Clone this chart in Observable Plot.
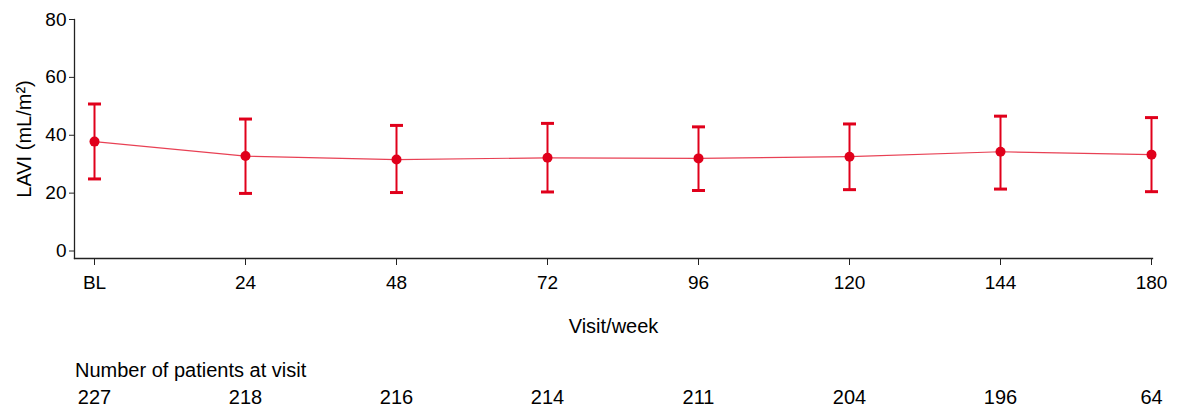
<!DOCTYPE html>
<html>
<head>
<meta charset="utf-8">
<script src="https://cdn.jsdelivr.net/npm/d3@7"></script>
<script src="https://cdn.jsdelivr.net/npm/@observablehq/plot@0.6"></script>
<style>
  html, body { margin: 0; padding: 0; background: #fff; }
  body { width: 1180px; height: 414px; overflow: hidden; font-family: "Liberation Sans", Arial, sans-serif; color: #000; }
  #title { height: 22px; line-height: 24px; font-size: 20px; padding-left: 75px; }
  svg { display: block; }
</style>
</head>
<body>
<div id="main"></div>
<div id="title">Number of patients at visit</div>
<div id="counts"></div>
<script>
const weeks = ["BL", "24", "48", "72", "96", "120", "144", "180"];
const meanLAVI = [37.8, 32.8, 31.6, 32.2, 32.0, 32.6, 34.3, 33.3];
const upperLAVI = [50.8, 45.6, 43.4, 44.1, 42.9, 43.9, 46.6, 46.1];
const lowerLAVI = [24.9, 19.9, 20.2, 20.4, 20.9, 21.2, 21.4, 20.5];
const patients = [227, 218, 216, 214, 211, 204, 196, 64];
const yTicks = [0, 20, 40, 60, 80];

const rows = weeks.map((w, i) => ({week: w, mean: meanLAVI[i], lo: lowerLAVI[i], hi: upperLAVI[i], n: patients[i]}));

const RED = "#e0001b";
const capSymbol = {
  draw(context, size) {
    const r = Math.sqrt(size / Math.PI);
    context.moveTo(-r, 0);
    context.lineTo(r, 0);
  }
};

const common = {
  width: 1180,
  marginLeft: 74,
  marginRight: 28,
  insetLeft: 18,
  style: {fontFamily: "'Liberation Sans', Arial, sans-serif", fontSize: "19px", color: "#000", background: "#fff", overflow: "visible"}
};

const main = Plot.plot({
  ...common,
  height: 358,
  marginTop: 19,
  marginBottom: 100,
  insetBottom: 7.5,
  x: {type: "point", domain: weeks, padding: 0},
  y: {domain: [0, 80]},
  marks: [
    Plot.frame({anchor: "left", stroke: "#222", strokeWidth: 1.3}),
    Plot.frame({anchor: "bottom", stroke: "#222", strokeWidth: 1.3}),
    Plot.axisY({ticks: yTicks, tickSize: 5, tickPadding: 3, stroke: "#222", fontSize: 19, label: null}),
    Plot.axisY({ticks: [], tickSize: 0, label: "LAVI (mL/m²)", labelAnchor: "center", labelArrow: "none", labelOffset: 58, fontSize: 20}),
    Plot.axisX({tickSize: 7, tickPadding: 10, stroke: "#222", fontSize: 19, label: null}),
    Plot.axisX({ticks: [], tickSize: 0, label: "Visit/week", labelAnchor: "center", labelArrow: "none", labelOffset: 74, fontSize: 20}),
    Plot.line(rows, {x: "week", y: "mean", stroke: RED, strokeWidth: 1.2, strokeOpacity: 0.75}),
    Plot.ruleX(rows, {x: "week", y1: "lo", y2: "hi", stroke: RED, strokeWidth: 2}),
    Plot.dot(rows, {x: "week", y: "hi", symbol: capSymbol, r: 6.5, stroke: RED, strokeWidth: 3, fill: "none"}),
    Plot.dot(rows, {x: "week", y: "lo", symbol: capSymbol, r: 6.5, stroke: RED, strokeWidth: 3, fill: "none"}),
    Plot.dot(rows, {x: "week", y: "mean", r: 5, fill: RED, stroke: "none"})
  ]
});
document.getElementById("main").appendChild(main);

const counts = Plot.plot({
  ...common,
  height: 34,
  marginTop: 0,
  marginBottom: 0,
  x: {type: "point", domain: weeks, padding: 0, axis: null},
  marks: [
    Plot.text(rows, {x: "week", text: d => String(d.n), fill: "#000", fontSize: 20})
  ]
});
document.getElementById("counts").appendChild(counts);
</script>
</body>
</html>
